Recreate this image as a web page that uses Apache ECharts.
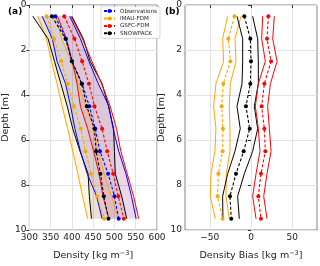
<!DOCTYPE html>
<html><head><meta charset="utf-8">
<script src="https://cdn.jsdelivr.net/npm/echarts@6/dist/echarts.min.js"></script>
<style>html,body{margin:0;padding:0;background:#fff}#c{width:320px;height:266px}</style>
</head><body><div id="c"></div>
<script>
// ---- data ----
var depth = [0.5, 1.5, 2.5, 3.5, 4.5, 5.5, 6.5, 7.5, 8.5, 9.5];

var obsMean = [361, 386, 400, 424, 441, 455, 466, 485, 500, 510];
var obsLow  = [330, 354, 365, 385, 397, 407, 420, 436, 458, 471];
var obsHigh = [395, 420, 440, 462, 487, 497, 510, 527, 540, 551];

var imauMean = [341, 358, 375, 390, 405, 421, 432, 445, 459, 476];
var imauLow  = [320, 340, 352, 365, 377, 390, 402, 414, 425, 437];
var imauHigh = [362, 376, 398, 415, 433, 452, 462, 476, 493, 510];

var gsfcMean = [382, 406, 424, 440, 453, 471, 483, 497, 509, 522];
var gsfcLow  = [366, 387, 401, 412, 420, 437, 451, 464, 473, 487];
var gsfcHigh = [398, 425, 447, 470, 490, 505, 515, 530, 545, 557];

var snowMean = [353, 385, 400, 423, 435, 453, 457, 467, 475, 486];
var snowLow  = [308, 344, 359, 374, 389, 402, 419, 438, 441, 446];
var snowHigh = [400, 427, 443, 471, 486, 498, 500, 502, 517, 529];

// biases (panel b)
var imauBias     = [-20, -27.5, -25, -33.6, -35.6, -34, -34.4, -39.6, -40.5, -34.4];
var imauBiasLow  = [-28.3, -34.4, -33.2, -42.5, -45.3, -42.5, -43.7, -48.5, -49.3, -43.3];
var imauBiasHigh = [-12.1, -19.4, -18.2, -25.1, -26.3, -25.5, -25.5, -29.9, -30.3, -26.3];

var snowBias     = [-8.1, -0.8, 0, -0.8, -6.1, -1.6, -8.9, -18.2, -25.5, -23.9];
var snowBiasLow  = [-17, -10.1, -10.1, -10.9, -17, -13, -19.4, -28.3, -34.4, -34];
var snowBiasHigh = [2, 8.1, 8.9, 8.9, 4, 8.1, 2, -8.1, -16.2, -14.2];

var gsfcBias     = [21, 19.4, 24.3, 16.2, 12.9, 16.2, 17.4, 12.1, 8.9, 12.1];
var gsfcBiasLow  = [14.2, 12.9, 17.4, 8.9, 5.3, 8.9, 10.9, 6.1, 2, 6.1];
var gsfcBiasHigh = [28.3, 26.3, 31.6, 23.5, 20.2, 22.3, 24.3, 19.4, 15.4, 19.4];

var biasTicks = [-50, 0, 50];

var names = ['Observations', 'IMAU-FDM', 'GSFC-FDM', 'SNOWPACK'];
var colors = ['#0000ff', '#ffa500', '#ff0000', '#000000'];
var fills = ['rgba(0,0,255,0.08)', 'rgba(255,165,0,0.11)', 'rgba(255,0,0,0.09)', 'rgba(0,0,0,0.08)'];

// ---- chart ----
function pts(arr) { return arr.map(function (v, i) { return [v, depth[i]]; }); }
var FONT = 'DejaVu Sans';

function band(low, high, fill, xi) {
  return {
    type: 'custom', xAxisIndex: xi, yAxisIndex: xi, z: 1, silent: true,
    data: [[low[0], depth[0]]],
    renderItem: function (params, api) {
      var p = [];
      for (var i = 0; i < low.length; i++) p.push(api.coord([low[i], depth[i]]));
      for (var j = high.length - 1; j >= 0; j--) p.push(api.coord([high[j], depth[j]]));
      return { type: 'polygon', shape: { points: p }, style: { fill: fill, stroke: 'none' } };
    }
  };
}
function bound(arr, color, xi) {
  return { type: 'line', xAxisIndex: xi, yAxisIndex: xi, data: pts(arr), showSymbol: false,
    symbol: 'none', lineStyle: { color: color, width: 1 }, z: 3, silent: true };
}
function meanS(name, arr, color, xi) {
  return { name: name, type: 'line', xAxisIndex: xi, yAxisIndex: xi, data: pts(arr),
    symbol: 'circle', symbolSize: 4, itemStyle: { color: color },
    lineStyle: { color: color, width: 1.1, type: [3, 2] }, z: 4 };
}

function ax(extra) {
  var base = {
    axisLine: { show: false },
    axisTick: { show: true, length: 3, lineStyle: { color: '#333' } },
    axisLabel: { fontFamily: FONT, fontSize: 9, color: '#222', margin: 3 },
    splitLine: { show: true, lineStyle: { color: '#e3e3e3', width: 1 } },
    nameTextStyle: { fontFamily: FONT, fontSize: 9.5, color: '#222' }
  };
  return Object.assign(base, extra);
}

var sup = { sup: { fontFamily: FONT, fontSize: 6.5, color: '#222', verticalAlign: 'top', padding: [0, 0, 5, 0] } };

var option = {
  animation: false,
  grid: [
    { left: 24, right: 163, top: 5, bottom: 25, show: true, borderColor: '#666', borderWidth: 0.8, backgroundColor: 'transparent' },
    { left: 185, right: 3, top: 5, bottom: 25, show: true, borderColor: '#666', borderWidth: 0.8, backgroundColor: 'transparent' }
  ],
  xAxis: [
    ax({ type: 'value', gridIndex: 0, min: 300, max: 600, interval: 50,
      name: 'Density [kg m{sup|−3}]', nameLocation: 'middle', nameGap: 20,
      nameTextStyle: { fontFamily: FONT, fontSize: 9.5, color: '#222', rich: sup } }),
    ax({ type: 'value', gridIndex: 1, min: -80, max: 80,
      axisLabel: { fontFamily: FONT, fontSize: 9, color: '#222', margin: 3, interval: 0, hideOverlap: false,
        showMinLabel: true, showMaxLabel: true,
        customValues: biasTicks, formatter: function (v) { return v < 0 ? '\u2212' + (-v) : '' + v; } },
      axisTick: { show: true, length: 3, lineStyle: { color: '#333' }, customValues: biasTicks },
      splitLine: { show: true, showMinLine: true, showMaxLine: true, lineStyle: { color: '#e3e3e3', width: 1 } },
      name: 'Density Bias [kg m{sup|−3}]', nameLocation: 'middle', nameGap: 20,
      nameTextStyle: { fontFamily: FONT, fontSize: 9.5, color: '#222', rich: sup } })
  ],
  yAxis: [
    ax({ type: 'value', gridIndex: 0, min: 0, max: 10, interval: 2, inverse: true,
      name: 'Depth [m]', nameLocation: 'middle', nameGap: 14 }),
    ax({ type: 'value', gridIndex: 1, min: 0, max: 10, interval: 2, inverse: true,
      name: 'Depth [m]', nameLocation: 'middle', nameGap: 14 })
  ],
  legend: {
    data: names, left: 101, top: 6, orient: 'vertical', itemGap: 1.2,
    itemWidth: 11, itemHeight: 5,
    textStyle: { fontFamily: FONT, fontSize: 5.6, color: '#222', lineHeight: 6.2 },
    backgroundColor: 'rgba(255,255,255,0.85)', borderColor: '#ccc', borderWidth: 0.8,
    borderRadius: 2, padding: [2, 3, 2, 2]
  },
  graphic: [
    { type: 'text', left: 8, top: 7, z: 100, style: { text: '(a)', font: 'bold 9px "DejaVu Sans"', fill: '#000' } },
    { type: 'text', left: 165, top: 7, z: 100, style: { text: '(b)', font: 'bold 9px "DejaVu Sans"', fill: '#000' } }
  ],
  series: [
    band(imauLow, imauHigh, fills[1], 0),
    band(snowLow, snowHigh, fills[3], 0),
    band(obsLow, obsHigh, fills[0], 0),
    band(gsfcLow, gsfcHigh, fills[2], 0),
    bound(imauLow, colors[1], 0), bound(imauHigh, colors[1], 0),
    bound(snowLow, colors[3], 0), bound(snowHigh, colors[3], 0),
    bound(obsLow, colors[0], 0), bound(obsHigh, colors[0], 0),
    bound(gsfcLow, colors[2], 0), bound(gsfcHigh, colors[2], 0),
    meanS('Observations', obsMean, colors[0], 0),
    meanS('IMAU-FDM', imauMean, colors[1], 0),
    meanS('GSFC-FDM', gsfcMean, colors[2], 0),
    meanS('SNOWPACK', snowMean, colors[3], 0),
    bound(imauBiasLow, colors[1], 1), bound(imauBiasHigh, colors[1], 1),
    bound(snowBiasLow, colors[3], 1), bound(snowBiasHigh, colors[3], 1),
    bound(gsfcBiasLow, colors[2], 1), bound(gsfcBiasHigh, colors[2], 1),
    meanS('IMAU-FDM', imauBias, colors[1], 1),
    meanS('SNOWPACK', snowBias, colors[3], 1),
    meanS('GSFC-FDM', gsfcBias, colors[2], 1)
  ]
};
var chart = echarts.init(document.getElementById('c'), null, { renderer: 'canvas' });
chart.setOption(option);
</script></body></html>
